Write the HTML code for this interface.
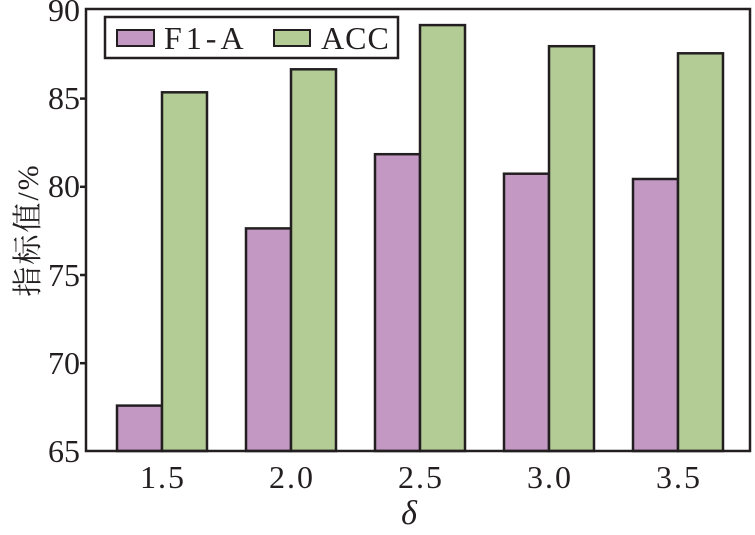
<!DOCTYPE html>
<html><head><style>body{margin:0;background:#fff}</style></head><body>
<svg width="755" height="530" xmlns="http://www.w3.org/2000/svg" font-family="Liberation Serif, Noto Serif CJK SC, serif">
<rect width="755" height="530" fill="#fff"/>
<g stroke="#231f20" stroke-width="2.5" transform="translate(20,0)">
<rect x="97" y="405.6" width="45" height="45.4" fill="#c399c4"/>
<rect x="142" y="92.3" width="45" height="358.7" fill="#b3cc96"/>
<rect x="226" y="228.4" width="45" height="222.6" fill="#c399c4"/>
<rect x="271" y="69.3" width="45" height="381.7" fill="#b3cc96"/>
<rect x="355" y="154.2" width="45" height="296.8" fill="#c399c4"/>
<rect x="400" y="25.1" width="45" height="425.9" fill="#b3cc96"/>
<rect x="484" y="173.7" width="45" height="277.3" fill="#c399c4"/>
<rect x="529" y="46.2" width="45" height="404.8" fill="#b3cc96"/>
<rect x="613" y="179.0" width="45" height="272.0" fill="#c399c4"/>
<rect x="658" y="53.3" width="45" height="397.7" fill="#b3cc96"/>
</g>
<rect x="86" y="9" width="664" height="442" fill="none" stroke="#231f20" stroke-width="2.5"/>
<g stroke="#231f20" stroke-width="2.5">
<line x1="80" y1="98.6" x2="86" y2="98.6"/><line x1="80" y1="186.8" x2="86" y2="186.8"/>
<line x1="80" y1="275" x2="86" y2="275"/><line x1="80" y1="363.2" x2="86" y2="363.2"/>
</g>
<g font-size="32" fill="#231f20" text-anchor="end">
<text x="80" y="21">90</text><text x="80" y="109">85</text><text x="80" y="197">80</text>
<text x="80" y="286">75</text><text x="80" y="374">70</text><text x="80" y="462">65</text>
</g>
<g font-size="32" fill="#231f20" text-anchor="middle" letter-spacing="2">
<text x="163" y="488">1.5</text><text x="292" y="488">2.0</text><text x="421" y="488">2.5</text>
<text x="550" y="488">3.0</text><text x="679" y="488">3.5</text>
</g>
<text x="409" y="524" font-style="italic" font-size="34" text-anchor="middle" fill="#231f20">δ</text>
<text transform="translate(38,230) rotate(-90)" font-size="30" text-anchor="middle" fill="#231f20" letter-spacing="2">指标值/%</text>
<rect x="105" y="17" width="293" height="41" fill="#fff" stroke="#231f20" stroke-width="2.5"/>
<rect x="117" y="30" width="37" height="16" fill="#c399c4" stroke="#231f20" stroke-width="2"/>
<text x="164" y="49" font-size="32" fill="#231f20" letter-spacing="4">F1-A</text>
<rect x="274" y="30" width="36" height="16" fill="#b3cc96" stroke="#231f20" stroke-width="2"/>
<text x="321" y="49" font-size="32" fill="#231f20" letter-spacing="1">ACC</text>
</svg>
</body></html>
